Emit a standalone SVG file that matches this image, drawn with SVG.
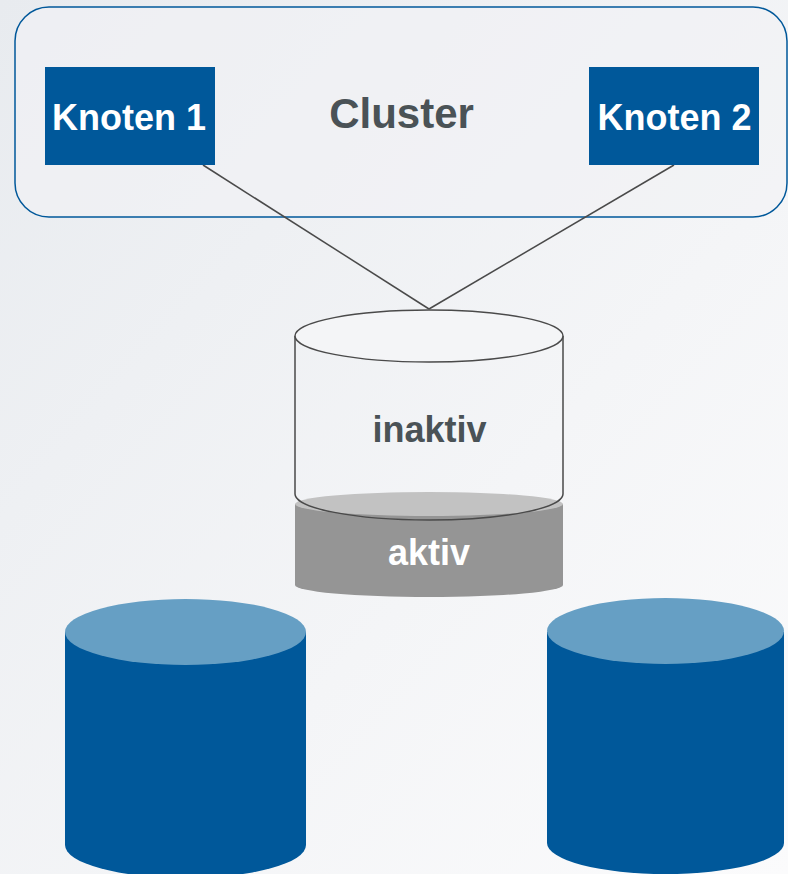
<svg xmlns="http://www.w3.org/2000/svg" width="788" height="874" viewBox="0 0 788 874">
<defs>
<linearGradient id="bg" x1="0" y1="0" x2="1" y2="1">
<stop offset="0" stop-color="#e8ebef"/>
<stop offset="0.6" stop-color="#f4f5f7"/>
<stop offset="1" stop-color="#fbfbfc"/>
</linearGradient>
<style>
.node{fill:#00589a}
.ntext{font-family:"Liberation Sans",Arial,sans-serif;font-weight:bold;font-size:36px;fill:#ffffff;text-anchor:middle}
.gtext{font-family:"Liberation Sans",Arial,sans-serif;font-weight:bold;fill:#4a5256;text-anchor:middle}
.conn{stroke:#4a4a4a;stroke-width:1.5;fill:none}
.dbbody{fill:#00589a}
.dbtop{fill:#669fc4}
</style>
</defs>
<rect width="788" height="874" fill="url(#bg)"/>
<g id="cluster">
<rect x="15" y="7" width="772" height="210" rx="34" ry="34" fill="#f1f2f5" fill-opacity="0.6" stroke="#00589a" stroke-width="1.5"/>
<text class="gtext" x="401.5" y="128" font-size="42">Cluster</text>
</g>
<g id="connectors">
<line class="conn" x1="203" y1="165" x2="429" y2="309"/>
<line class="conn" x1="674" y1="165" x2="429" y2="309"/>
</g>
<g id="knoten1">
<rect class="node" x="45" y="67" width="170" height="98"/>
<text class="ntext" x="129" y="130">Knoten 1</text>
</g>
<g id="knoten2">
<rect class="node" x="589" y="67" width="170" height="98"/>
<text class="ntext" x="674.5" y="130">Knoten 2</text>
</g>
<g id="aktiv">
<path d="M295 504 L295 585 A134 12 0 0 0 563 585 L563 504 Z" fill="#959595"/>
<ellipse cx="429" cy="504" rx="134" ry="12" fill="#c2c2c2"/>
<text class="gtext" x="429" y="565" font-size="36" style="fill:#ffffff">aktiv</text>
</g>
<g id="inaktiv">
<path d="M295 336 L295 494 A134 26 0 0 0 563 494 L563 336" fill="none" stroke="#4a4a4a" stroke-width="1.5"/>
<ellipse cx="429" cy="336" rx="134" ry="26" fill="#f4f5f7" stroke="#4a4a4a" stroke-width="1.5"/>
<text class="gtext" x="429.5" y="442" font-size="36">inaktiv</text>
</g>
<g id="db-left">
<path class="dbbody" d="M65 632 L65 845 A120.5 33 0 0 0 306 845 L306 632 Z"/>
<ellipse class="dbtop" cx="185.5" cy="632" rx="120.5" ry="33"/>
</g>
<g id="db-right">
<path class="dbbody" d="M547 632 L547 843 A118.5 31 0 0 0 784 843 L784 632 Z"/>
<ellipse class="dbtop" cx="665.5" cy="631" rx="118.5" ry="33"/>
</g>
</svg>
